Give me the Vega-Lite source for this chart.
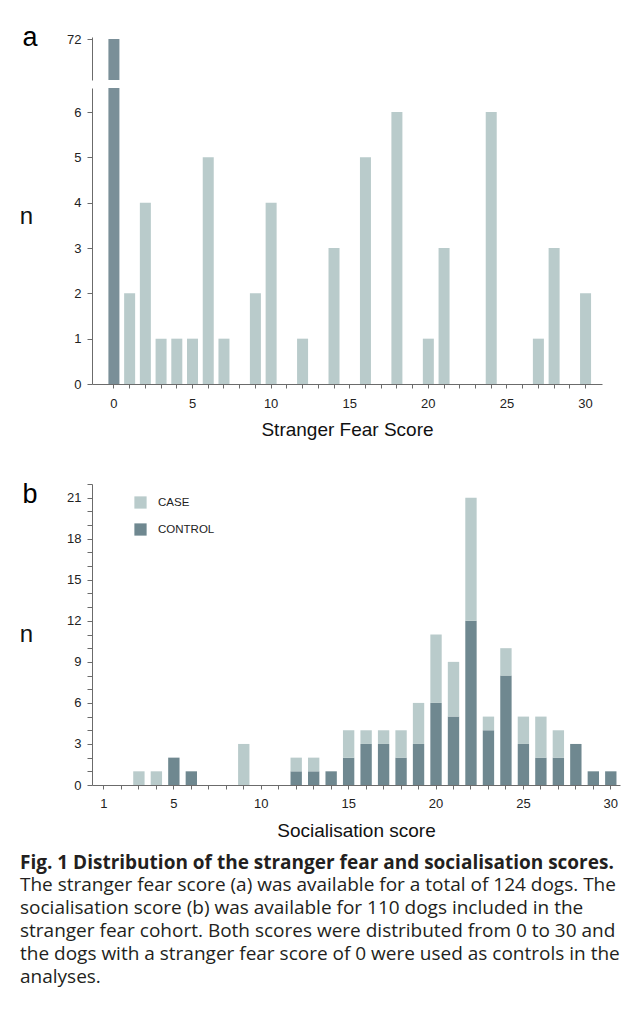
{
  "$schema": "https://vega.github.io/schema/vega-lite/v6.json",
  "padding": {"left": 19, "top": 23, "right": 7, "bottom": 20},
  "background": "white",
  "datasets": {
    "fear": [
      {"score": 0, "n": 72, "group": "CONTROL"},
      {"score": 1, "n": 2, "group": "CASE"},
      {"score": 2, "n": 4, "group": "CASE"},
      {"score": 3, "n": 1, "group": "CASE"},
      {"score": 4, "n": 1, "group": "CASE"},
      {"score": 5, "n": 1, "group": "CASE"},
      {"score": 6, "n": 5, "group": "CASE"},
      {"score": 7, "n": 1, "group": "CASE"},
      {"score": 9, "n": 2, "group": "CASE"},
      {"score": 10, "n": 4, "group": "CASE"},
      {"score": 12, "n": 1, "group": "CASE"},
      {"score": 14, "n": 3, "group": "CASE"},
      {"score": 16, "n": 5, "group": "CASE"},
      {"score": 18, "n": 6, "group": "CASE"},
      {"score": 20, "n": 1, "group": "CASE"},
      {"score": 21, "n": 3, "group": "CASE"},
      {"score": 24, "n": 6, "group": "CASE"},
      {"score": 27, "n": 1, "group": "CASE"},
      {"score": 28, "n": 3, "group": "CASE"},
      {"score": 30, "n": 2, "group": "CASE"}
    ],
    "social": [
      {"score": 5, "group": "CONTROL", "n": 2},
      {"score": 6, "group": "CONTROL", "n": 1},
      {"score": 12, "group": "CONTROL", "n": 1},
      {"score": 13, "group": "CONTROL", "n": 1},
      {"score": 14, "group": "CONTROL", "n": 1},
      {"score": 15, "group": "CONTROL", "n": 2},
      {"score": 16, "group": "CONTROL", "n": 3},
      {"score": 17, "group": "CONTROL", "n": 3},
      {"score": 18, "group": "CONTROL", "n": 2},
      {"score": 19, "group": "CONTROL", "n": 3},
      {"score": 20, "group": "CONTROL", "n": 6},
      {"score": 21, "group": "CONTROL", "n": 5},
      {"score": 22, "group": "CONTROL", "n": 12},
      {"score": 23, "group": "CONTROL", "n": 4},
      {"score": 24, "group": "CONTROL", "n": 8},
      {"score": 25, "group": "CONTROL", "n": 3},
      {"score": 26, "group": "CONTROL", "n": 2},
      {"score": 27, "group": "CONTROL", "n": 2},
      {"score": 28, "group": "CONTROL", "n": 3},
      {"score": 29, "group": "CONTROL", "n": 1},
      {"score": 30, "group": "CONTROL", "n": 1},
      {"score": 3, "group": "CASE", "n": 1},
      {"score": 4, "group": "CASE", "n": 1},
      {"score": 9, "group": "CASE", "n": 3},
      {"score": 12, "group": "CASE", "n": 1},
      {"score": 13, "group": "CASE", "n": 1},
      {"score": 15, "group": "CASE", "n": 2},
      {"score": 16, "group": "CASE", "n": 1},
      {"score": 17, "group": "CASE", "n": 1},
      {"score": 18, "group": "CASE", "n": 2},
      {"score": 19, "group": "CASE", "n": 3},
      {"score": 20, "group": "CASE", "n": 5},
      {"score": 21, "group": "CASE", "n": 4},
      {"score": 22, "group": "CASE", "n": 9},
      {"score": 23, "group": "CASE", "n": 1},
      {"score": 24, "group": "CASE", "n": 2},
      {"score": 25, "group": "CASE", "n": 2},
      {"score": 26, "group": "CASE", "n": 3},
      {"score": 27, "group": "CASE", "n": 2}
    ]
  },
  "title": {
    "text": "Fig. 1 Distribution of the stranger fear and socialisation scores.",
    "subtitle": [
      "The stranger fear score (a) was available for a total of 124 dogs. The",
      "socialisation score (b) was available for 110 dogs included in the",
      "stranger fear cohort. Both scores were distributed from 0 to 30 and",
      "the dogs with a stranger fear score of 0 were used as controls in the",
      "analyses."
    ],
    "orient": "bottom",
    "anchor": "start",
    "frame": "group",
    "dx": -72,
    "offset": 14,
    "baseline": "top",
    "font": "Open Sans",
    "fontSize": 19,
    "fontWeight": "bold",
    "color": "#231f20",
    "subtitleFont": "Open Sans",
    "subtitleFontSize": 19,
    "subtitleFontWeight": "normal",
    "subtitleColor": "#231f20",
    "subtitleLineHeight": 23,
    "subtitlePadding": 3
  },
  "spacing": 41,
  "bounds": "full",
  "resolve": {"scale": {"color": "independent"}, "legend": {"color": "independent"}},
  "vconcat": [
    {
      "spacing": 8,
      "bounds": "flush",
      "vconcat": [
        {
          "width": 510,
          "height": 43,
          "data": {"name": "fear"},
          "transform": [{"filter": "datum.n > 10"}],
          "mark": {"type": "bar", "clip": true},
          "encoding": {
            "x": {"field": "score", "type": "ordinal",
                  "scale": {"domain": [0,1,2,3,4,5,6,7,8,9,10,11,12,13,14,15,16,17,18,19,20,21,22,23,24,25,26,27,28,29,30], "paddingInner": 0.3, "paddingOuter": 0.87, "align": 0.6},
                  "axis": null},
            "y": {"field": "n", "type": "quantitative",
                  "scale": {"domain": [70, 72.1], "zero": false, "nice": false},
                  "axis": {"values": [72], "title": "a", "titleAngle": 0, "titleX": -70, "titleY": 8, "titleAlign": "left", "titleBaseline": "alphabetic", "titleFontSize": 27, "titleColor": "#000000"}},
            "color": {"field": "group", "type": "nominal",
                      "scale": {"domain": ["CASE", "CONTROL"], "range": ["#b9cbcb", "#7a8f98"]},
                      "legend": null}
          }
        },
        {
          "width": 510,
          "height": 296,
          "data": {"name": "fear"},
          "mark": {"type": "bar", "clip": true},
          "encoding": {
            "x": {"field": "score", "type": "ordinal",
                  "scale": {"domain": [0,1,2,3,4,5,6,7,8,9,10,11,12,13,14,15,16,17,18,19,20,21,22,23,24,25,26,27,28,29,30], "paddingInner": 0.3, "paddingOuter": 0.87, "align": 0.6},
                  "axis": {"title": "Stranger Fear Score", "labelExpr": "datum.value % 5 == 0 ? datum.label : ''", "labelPadding": 9, "titlePadding": 10}},
            "y": {"field": "n", "type": "quantitative",
                  "scale": {"domain": [0, 6.53], "nice": false},
                  "axis": {"values": [0,1,2,3,4,5,6], "title": "n", "titleAngle": 0, "titleX": -66, "titleY": 128, "titleAlign": "center", "titleBaseline": "middle", "titleFontSize": 24}},
            "color": {"field": "group", "type": "nominal",
                      "scale": {"domain": ["CASE", "CONTROL"], "range": ["#b9cbcb", "#7a8f98"]},
                      "legend": null}
          }
        }
      ]
    },
    {
      "width": 528,
      "height": 301,
      "data": {"name": "social"},
      "layer": [
        {
          "mark": {"type": "bar"},
          "encoding": {
            "x": {"field": "score", "type": "ordinal",
                  "scale": {"domain": [1,2,3,4,5,6,7,8,9,10,11,12,13,14,15,16,17,18,19,20,21,22,23,24,25,26,27,28,29,30], "paddingInner": 0.35, "paddingOuter": 0.28, "align": 0.64},
                  "axis": {"title": "Socialisation score", "labelExpr": "datum.value == 1 || datum.value % 5 == 0 ? datum.label : ''", "labelPadding": 8, "titlePadding": 11}},
            "y": {"field": "n", "type": "quantitative", "stack": "zero",
                  "scale": {"domain": [0, 22], "nice": false},
                  "axis": {"values": [0,1,2,3,4,5,6,7,8,9,10,11,12,13,14,15,16,17,18,19,20,21,22], "labelExpr": "datum.value % 3 == 0 ? datum.label : ''", "title": "n", "titleAngle": 0, "titleX": -66, "titleY": 150, "titleAlign": "center", "titleBaseline": "middle", "titleFontSize": 24}},
            "color": {"field": "group", "type": "nominal",
                      "scale": {"domain": ["CASE", "CONTROL"], "range": ["#b9cbcb", "#6f8890"]},
                      "legend": {"orient": "none", "legendX": 42, "legendY": 12, "title": null, "symbolType": "square", "symbolSize": 150, "symbolStrokeWidth": 0, "labelFontSize": 11.5, "labelFont": "Liberation Sans", "labelColor": "#222222", "rowPadding": 14, "labelOffset": 11, "padding": 0}},
            "order": {"field": "group", "sort": "descending"}
          }
        },
        {
          "mark": {"type": "bar", "opacity": 0},
          "encoding": {
            "x": {"field": "score", "type": "ordinal",
                  "axis": {"orient": "top", "title": "b", "domain": false, "ticks": false, "labels": false, "titleX": -70, "titleY": 18, "titleAlign": "left", "titleBaseline": "alphabetic", "titleFontSize": 27, "titleColor": "#000000", "titlePadding": 0}}
          }
        }
      ],
      "resolve": {"axis": {"x": "independent"}}
    }
  ],
  "config": {
    "view": {"stroke": null},
    "font": "Liberation Sans",
    "axis": {"domainColor": "#6b6b6b", "tickColor": "#6b6b6b", "labelColor": "#222222", "labelFont": "Liberation Sans", "labelFontSize": 13, "titleFont": "Liberation Sans", "titleFontWeight": "normal", "titleFontSize": 19, "titleColor": "#111111", "grid": false, "domainWidth": 1, "tickWidth": 1},
    "axisY": {"tickSize": 5, "labelPadding": 6},
    "axisX": {"tickSize": 4, "labelAngle": 0, "labelPadding": 5}
  }
}
